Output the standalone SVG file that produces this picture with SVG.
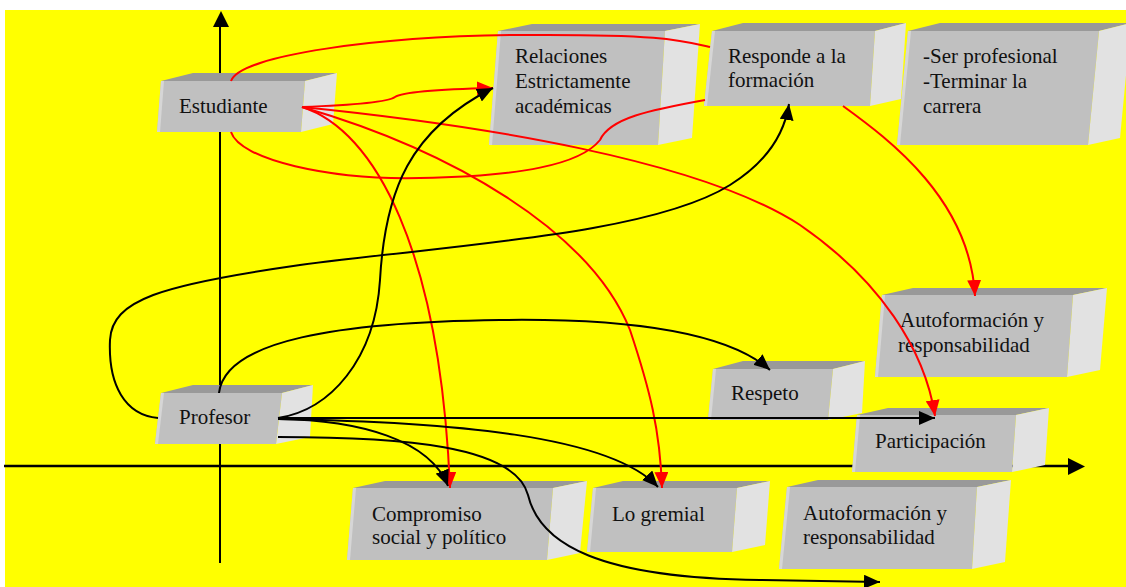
<svg xmlns="http://www.w3.org/2000/svg" width="1126" height="587" viewBox="0 0 1126 587">
<style>
.top{fill:#999999}
.front{fill:#c0c0c0}
.side{fill:#e2e2e2}
.strip{fill:#d6d6d6}
.t{font-family:"Liberation Serif","Times New Roman",serif;font-size:21px;fill:#111}
.r{fill:none;stroke:#ff0000;stroke-width:2}
.k{fill:none;stroke:#000;stroke-width:2}
</style>
<defs>
<marker id="ak" viewBox="0 0 16 14" refX="16" refY="7" markerWidth="16" markerHeight="14" markerUnits="userSpaceOnUse" orient="auto"><path d="M0,0 L16,7 L0,14 z" fill="#000"/></marker>
<marker id="ar" viewBox="0 0 16 14" refX="16" refY="7" markerWidth="16" markerHeight="14" markerUnits="userSpaceOnUse" orient="auto"><path d="M0,0 L16,7 L0,14 z" fill="#ff0000"/></marker>
</defs>
<rect x="0" y="0" width="1126" height="587" fill="#ffffff"/>
<rect x="5" y="10" width="1121" height="577" fill="#ffff00"/>
<g id="axes">
<line x1="220" y1="563" x2="220" y2="24" stroke="#000" stroke-width="2"/>
<path d="M213,27 L221,11 L229,27 z" fill="#000"/>
<line x1="4" y1="466" x2="1070" y2="466" stroke="#000" stroke-width="2.5"/>
<path d="M1068,458 L1085,466.5 L1068,475 z" fill="#000"/>
</g>
<g id="n-estudiante">
<polygon class="top" points="161,81 193,73 337,73 305,81"/>
<polygon class="side" points="305,81 337,73 333,124 301,132"/>
<polygon class="front" points="161,81 305,81 301,132 157,132"/>
<polygon class="strip" points="161,81 164,81 160,132 157,132"/>
<text class="t" x="179" y="113">Estudiante</text>
</g>
<g id="n-relaciones">
<polygon class="top" points="498,31 532,24 700,24 665,31"/>
<polygon class="side" points="665,31 700,24 692,138 658,145"/>
<polygon class="front" points="498,31 665,31 658,145 489,145"/>
<polygon class="strip" points="498,31 501,31 492,145 489,145"/>
<text class="t" x="515" y="63">Relaciones</text>
<text class="t" x="515" y="88">Estrictamente</text>
<text class="t" x="515" y="113">académicas</text>
</g>
<g id="n-responde">
<polygon class="top" points="712,31 743,23 906,23 875,31"/>
<polygon class="side" points="875,31 906,23 901,99 870,106"/>
<polygon class="front" points="712,31 875,31 870,106 704,106"/>
<polygon class="strip" points="712,31 715,31 707,106 704,106"/>
<text class="t" x="728" y="63">Responde a la</text>
<text class="t" x="728" y="87">formación</text>
</g>
<g id="n-ser">
<polygon class="top" points="908,31 940,23 1131,23 1099,31"/>
<polygon class="side" points="1099,31 1131,23 1120,138 1088,145"/>
<polygon class="front" points="908,31 1099,31 1088,145 897,145"/>
<polygon class="strip" points="908,31 911,31 900,145 897,145"/>
<text class="t" x="923" y="63">-Ser profesional</text>
<text class="t" x="923" y="88">-Terminar la</text>
<text class="t" x="923" y="113">carrera</text>
</g>
<g id="n-autoformacion1">
<polygon class="top" points="882,295 913,288 1107,288 1073,295"/>
<polygon class="side" points="1073,295 1107,288 1100,370 1067,377"/>
<polygon class="front" points="882,295 1073,295 1067,377 875,377"/>
<polygon class="strip" points="882,295 885,295 878,377 875,377"/>
<text class="t" x="900" y="327">Autoformación y</text>
<text class="t" x="898" y="352">responsabilidad</text>
</g>
<g id="n-profesor">
<polygon class="top" points="161,393 193,385 313,385 282,393"/>
<polygon class="side" points="282,393 313,385 310,437 276,444"/>
<polygon class="front" points="161,393 282,393 276,444 155,444"/>
<polygon class="strip" points="161,393 164,393 158,444 155,444"/>
<text class="t" x="179" y="424">Profesor</text>
</g>
<g id="n-respeto">
<polygon class="top" points="713,369 743,361 865,361 833,369"/>
<polygon class="side" points="833,369 865,361 862,413 828,420"/>
<polygon class="front" points="713,369 833,369 828,420 708,420"/>
<polygon class="strip" points="713,369 716,369 711,420 708,420"/>
<text class="t" x="731" y="400">Respeto</text>
</g>
<g id="n-participacion">
<polygon class="top" points="857,415 888,408 1049,408 1016,415"/>
<polygon class="side" points="1016,415 1049,408 1045,465 1012,472"/>
<polygon class="front" points="857,415 1016,415 1012,472 852,472"/>
<polygon class="strip" points="857,415 860,415 855,472 852,472"/>
<text class="t" x="875" y="448">Participación</text>
</g>
<g id="n-compromiso">
<polygon class="top" points="353,488 385,481 587,481 553,488"/>
<polygon class="side" points="553,488 587,481 580,553 547,560"/>
<polygon class="front" points="353,488 553,488 547,560 347,560"/>
<polygon class="strip" points="353,488 356,488 350,560 347,560"/>
<text class="t" x="372" y="521">Compromiso</text>
<text class="t" x="372" y="544">social y político</text>
</g>
<g id="n-gremial">
<polygon class="top" points="593,488 623,481 770,481 737,488"/>
<polygon class="side" points="737,488 770,481 765,545 732,552"/>
<polygon class="front" points="593,488 737,488 732,552 587,552"/>
<polygon class="strip" points="593,488 596,488 590,552 587,552"/>
<text class="t" x="612" y="521">Lo gremial</text>
</g>
<g id="n-autoformacion2">
<polygon class="top" points="787,487 818,480 1011,480 977,487"/>
<polygon class="side" points="977,487 1011,480 1005,562 972,569"/>
<polygon class="front" points="787,487 977,487 972,569 779,569"/>
<polygon class="strip" points="787,487 790,487 782,569 779,569"/>
<text class="t" x="803" y="520">Autoformación y</text>
<text class="t" x="803" y="544">responsabilidad</text>
</g>
<g id="connectors">
<path class="r" d="M231,81 C 240,55 380,36 520,35 S 680,40 710,47"/>
<path class="r" d="M231,132 C 240,160 330,180 420,178 C 520,176 580,165 600,140 C 610,118 650,110 705,100"/>
<path class="r" d="M302,107 Q 385,104 395,97 Q 405,90 493,88" marker-end="url(#ar)"/>
<path class="r" d="M302,107 C 480,125 700,160 800,225 C 880,280 925,350 935,416" marker-end="url(#ar)"/>
<path class="r" d="M302,107 C 450,150 590,230 630,330 C 650,390 660,430 662,488" marker-end="url(#ar)"/>
<path class="r" d="M302,107 C 375,130 440,250 450,488" marker-end="url(#ar)"/>
<path class="r" d="M843,106 C 890,140 970,200 975,296" marker-end="url(#ar)"/>
<path class="k" d="M278,418 C 330,410 375,360 380,280 C 385,190 410,130 493,88" marker-end="url(#ak)"/>
<path class="k" d="M219,393 C 225,340 340,322 500,320 C 640,318 730,335 770,370" marker-end="url(#ak)"/>
<path class="k" d="M158,418 C 125,415 108,385 110,340 C 112,300 160,285 300,265 C 450,245 650,235 730,185 C 770,160 785,130 789,104" marker-end="url(#ak)"/>
<path class="k" d="M278,418 L 935,418" marker-end="url(#ak)"/>
<path class="k" d="M278,419 C 450,422 610,435 658,487" marker-end="url(#ak)"/>
<path class="k" d="M278,419 C 360,420 430,440 448,486" marker-end="url(#ak)"/>
<path class="k" d="M278,437 C 400,437 515,445 528,495 C 540,545 600,578 760,580 L 880,582" marker-end="url(#ak)"/>
</g>
</svg>
